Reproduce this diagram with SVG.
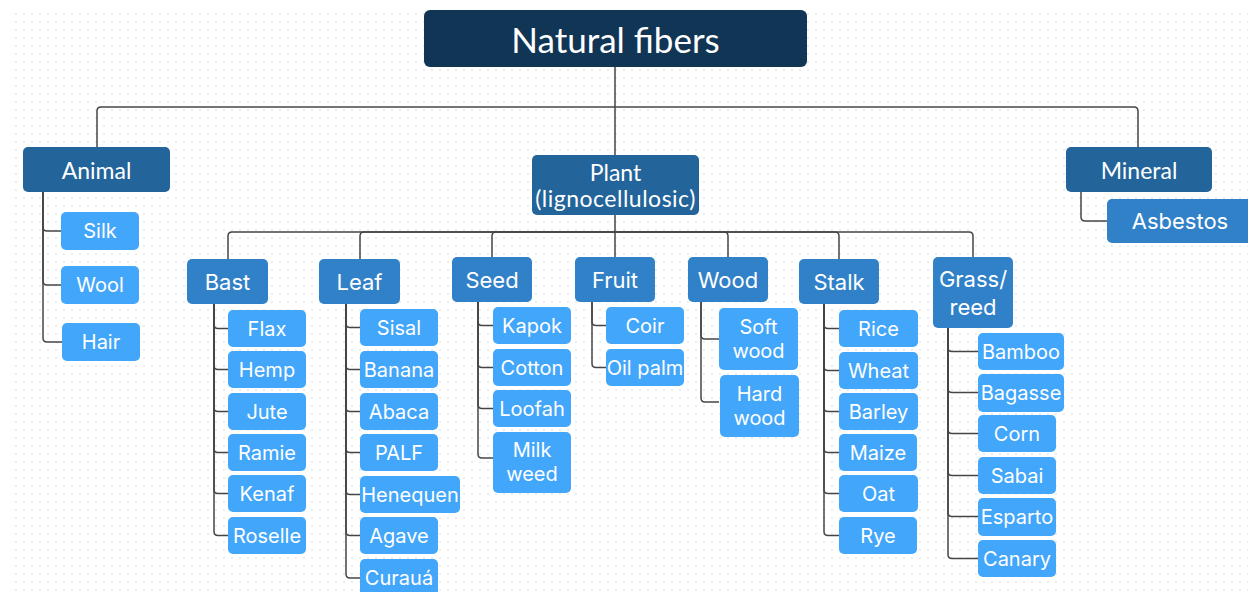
<svg xmlns="http://www.w3.org/2000/svg" width="1248" height="592" viewBox="0 0 1248 592">
<defs>
<pattern id="dots" x="15" y="13" width="8" height="8" patternUnits="userSpaceOnUse">
<circle cx="1" cy="1" r="0.9" fill="#e2e4e8"/>
</pattern>
<style>
.c{fill:none;stroke:#454545;stroke-width:1.5}
.n0{fill:#113555}
.n1{fill:#23649a}
.n2{fill:#3181c9}
.n3{fill:#42a6fb}
text{fill:#fff;text-anchor:middle;dominant-baseline:central}
.t0{font-family:Lato,"Noto Sans",sans-serif;font-size:35px}
.t1{font-family:Lato,"Noto Sans",sans-serif;font-size:23px}
.t2{font-family:Inter,"Noto Sans",sans-serif;font-size:22px}
.t3{font-family:Inter,"Noto Sans",sans-serif;font-size:20px}
</style>
</defs>
<rect width="1248" height="592" fill="#fff"/>
<rect x="14" y="12" width="1234" height="580" fill="url(#dots)"/>

<g id="connectors">
<path class="c" d="M615,67 V155"/>
<path class="c" d="M615,107 H101 Q97,107 97,111 V147"/>
<path class="c" d="M615,107 H1134 Q1138,107 1138,111 V147"/>
<path class="c" d="M1081,192 V217 Q1081,221 1085,221 H1107"/>
<path class="c" d="M43,192 V227 Q43,231 47,231 H61"/>
<path class="c" d="M43,192 V281 Q43,285 47,285 H61"/>
<path class="c" d="M43,192 V338 Q43,342 47,342 H62"/>
<path class="c" d="M615,215 V257"/>
<path class="c" d="M615,232 H232 Q228,232 228,236 V259"/>
<path class="c" d="M615,232 H364 Q360,232 360,236 V259"/>
<path class="c" d="M615,232 H496 Q492,232 492,236 V257"/>
<path class="c" d="M615,232 H724 Q728,232 728,236 V257"/>
<path class="c" d="M615,232 H835 Q839,232 839,236 V259"/>
<path class="c" d="M615,232 H969 Q973,232 973,236 V257"/>
<path class="c" d="M214,304 V324.5 Q214,328.5 218,328.5 H228"/>
<path class="c" d="M214,304 V365.5 Q214,369.5 218,369.5 H228"/>
<path class="c" d="M214,304 V407.5 Q214,411.5 218,411.5 H228"/>
<path class="c" d="M214,304 V448.5 Q214,452.5 218,452.5 H228"/>
<path class="c" d="M214,304 V489.5 Q214,493.5 218,493.5 H228"/>
<path class="c" d="M214,304 V531.5 Q214,535.5 218,535.5 H228"/>
<path class="c" d="M346,304 V323.5 Q346,327.5 350,327.5 H360"/>
<path class="c" d="M346,304 V365.5 Q346,369.5 350,369.5 H360"/>
<path class="c" d="M346,304 V407.5 Q346,411.5 350,411.5 H360"/>
<path class="c" d="M346,304 V448.5 Q346,452.5 350,452.5 H360"/>
<path class="c" d="M346,304 V490.5 Q346,494.5 350,494.5 H360"/>
<path class="c" d="M346,304 V531.5 Q346,535.5 350,535.5 H360"/>
<path class="c" d="M346,304 V574 Q346,578 350,578 H360"/>
<path class="c" d="M478,302 V321.5 Q478,325.5 482,325.5 H493"/>
<path class="c" d="M478,302 V363.5 Q478,367.5 482,367.5 H493"/>
<path class="c" d="M478,302 V404.5 Q478,408.5 482,408.5 H493"/>
<path class="c" d="M478,302 V454 Q478,458 482,458 H493"/>
<path class="c" d="M592,302 V321.5 Q592,325.5 596,325.5 H606"/>
<path class="c" d="M592,302 V363.5 Q592,367.5 596,367.5 H606"/>
<path class="c" d="M701,302 V335 Q701,339 705,339 H719"/>
<path class="c" d="M701,302 V398 Q701,402 705,402 H719"/>
<path class="c" d="M824,304 V324.5 Q824,328.5 828,328.5 H839"/>
<path class="c" d="M824,304 V366.5 Q824,370.5 828,370.5 H839"/>
<path class="c" d="M824,304 V407.5 Q824,411.5 828,411.5 H839"/>
<path class="c" d="M824,304 V448.5 Q824,452.5 828,452.5 H839"/>
<path class="c" d="M824,304 V489.5 Q824,493.5 828,493.5 H839"/>
<path class="c" d="M824,304 V531.5 Q824,535.5 828,535.5 H839"/>
<path class="c" d="M948,328 V347.5 Q948,351.5 952,351.5 H978"/>
<path class="c" d="M948,328 V388.5 Q948,392.5 952,392.5 H978"/>
<path class="c" d="M948,328 V429.5 Q948,433.5 952,433.5 H978"/>
<path class="c" d="M948,328 V471.5 Q948,475.5 952,475.5 H978"/>
<path class="c" d="M948,328 V512.5 Q948,516.5 952,516.5 H978"/>
<path class="c" d="M948,328 V554.5 Q948,558.5 952,558.5 H978"/>
</g>

<g id="natural-fibers"><rect class="n0" x="424" y="10" width="383" height="57" rx="6"/><text class="t0" x="615.5" y="39">Natural fibers</text></g>

<g id="animal"><rect class="n1" x="23" y="147" width="147" height="45" rx="5"/><text class="t1" x="96.5" y="169.5">Animal</text></g>
<g id="plant"><rect class="n1" x="532" y="155" width="167" height="60" rx="5"/><text class="t1" x="615.5" y="172">Plant</text><text class="t1" x="615.5" y="198" letter-spacing="0.5">(lignocellulosic)</text></g>
<g id="mineral"><rect class="n1" x="1066" y="147" width="146" height="45" rx="5"/><text class="t1" x="1139" y="169.5">Mineral</text></g>
<g id="asbestos"><rect class="n2" x="1107" y="199" width="146" height="44" rx="5"/><text class="t2" x="1180" y="221">Asbestos</text></g>

<g id="silk"><rect class="n3" x="61" y="212" width="78" height="38" rx="5"/><text class="t3" x="100" y="231">Silk</text></g>
<g id="wool"><rect class="n3" x="61" y="266" width="78" height="38" rx="5"/><text class="t3" x="100" y="285">Wool</text></g>
<g id="hair"><rect class="n3" x="62" y="323" width="78" height="38" rx="5"/><text class="t3" x="101" y="342">Hair</text></g>

<g id="bast"><rect class="n2" x="187" y="259" width="81" height="45" rx="5"/><text class="t2" x="227.5" y="281.5">Bast</text></g>
<g id="leaf"><rect class="n2" x="319" y="259" width="81" height="45" rx="5"/><text class="t2" x="359.5" y="281.5">Leaf</text></g>
<g id="seed"><rect class="n2" x="452" y="257" width="80" height="45" rx="5"/><text class="t2" x="492" y="279.5">Seed</text></g>
<g id="fruit"><rect class="n2" x="575" y="257" width="80" height="45" rx="5"/><text class="t2" x="615" y="279.5">Fruit</text></g>
<g id="wood"><rect class="n2" x="688" y="257" width="80" height="45" rx="5"/><text class="t2" x="728" y="279.5">Wood</text></g>
<g id="stalk"><rect class="n2" x="799" y="259" width="80" height="45" rx="5"/><text class="t2" x="839" y="281.5">Stalk</text></g>
<g id="grass-reed"><rect class="n2" x="933" y="257" width="80" height="71" rx="5"/><text class="t2" x="973" y="279">Grass/</text><text class="t2" x="973" y="307">reed</text></g>

<g id="flax"><rect class="n3" x="228" y="310" width="78" height="37" rx="5"/><text class="t3" x="267" y="328.5">Flax</text></g>
<g id="hemp"><rect class="n3" x="228" y="351" width="78" height="37" rx="5"/><text class="t3" x="267" y="369.5">Hemp</text></g>
<g id="jute"><rect class="n3" x="228" y="393" width="78" height="37" rx="5"/><text class="t3" x="267" y="411.5">Jute</text></g>
<g id="ramie"><rect class="n3" x="228" y="434" width="78" height="37" rx="5"/><text class="t3" x="267" y="452.5">Ramie</text></g>
<g id="kenaf"><rect class="n3" x="228" y="475" width="78" height="37" rx="5"/><text class="t3" x="267" y="493.5">Kenaf</text></g>
<g id="roselle"><rect class="n3" x="228" y="517" width="78" height="37" rx="5"/><text class="t3" x="267" y="535.5">Roselle</text></g>

<g id="sisal"><rect class="n3" x="360" y="309" width="78" height="37" rx="5"/><text class="t3" x="399" y="327.5">Sisal</text></g>
<g id="banana"><rect class="n3" x="360" y="351" width="78" height="37" rx="5"/><text class="t3" x="399" y="369.5">Banana</text></g>
<g id="abaca"><rect class="n3" x="360" y="393" width="78" height="37" rx="5"/><text class="t3" x="399" y="411.5">Abaca</text></g>
<g id="palf"><rect class="n3" x="360" y="434" width="78" height="37" rx="5"/><text class="t3" x="399" y="452.5">PALF</text></g>
<g id="henequen"><rect class="n3" x="360" y="476" width="100" height="37" rx="5"/><text class="t3" x="410" y="494.5">Henequen</text></g>
<g id="agave"><rect class="n3" x="360" y="517" width="78" height="37" rx="5"/><text class="t3" x="399" y="535.5">Agave</text></g>
<g id="curaua"><rect class="n3" x="360" y="559" width="78" height="38" rx="5"/><text class="t3" x="399" y="577.5">Curauá</text></g>

<g id="kapok"><rect class="n3" x="493" y="307" width="78" height="37" rx="5"/><text class="t3" x="532" y="325.5">Kapok</text></g>
<g id="cotton"><rect class="n3" x="493" y="349" width="78" height="37" rx="5"/><text class="t3" x="532" y="367.5">Cotton</text></g>
<g id="loofah"><rect class="n3" x="493" y="390" width="78" height="37" rx="5"/><text class="t3" x="532" y="408.5">Loofah</text></g>
<g id="milk-weed"><rect class="n3" x="493" y="432" width="78" height="61" rx="5"/><text class="t3" x="532" y="450">Milk</text><text class="t3" x="532" y="474">weed</text></g>

<g id="coir"><rect class="n3" x="606" y="307" width="78" height="37" rx="5"/><text class="t3" x="645" y="325.5">Coir</text></g>
<g id="oil-palm"><rect class="n3" x="606" y="349" width="78" height="37" rx="5"/><text class="t3" x="645" y="367.5">Oil palm</text></g>

<g id="soft-wood"><rect class="n3" x="719" y="308" width="79" height="62" rx="5"/><text class="t3" x="758.5" y="327">Soft</text><text class="t3" x="758.5" y="351">wood</text></g>
<g id="hard-wood"><rect class="n3" x="720" y="375" width="79" height="62" rx="5"/><text class="t3" x="759.5" y="394">Hard</text><text class="t3" x="759.5" y="418">wood</text></g>

<g id="rice"><rect class="n3" x="839" y="310" width="79" height="37" rx="5"/><text class="t3" x="878.5" y="328.5">Rice</text></g>
<g id="wheat"><rect class="n3" x="839" y="352" width="79" height="37" rx="5"/><text class="t3" x="878.5" y="370.5">Wheat</text></g>
<g id="barley"><rect class="n3" x="839" y="393" width="79" height="37" rx="5"/><text class="t3" x="878.5" y="411.5">Barley</text></g>
<g id="maize"><rect class="n3" x="839" y="434" width="78" height="37" rx="5"/><text class="t3" x="878" y="452.5">Maize</text></g>
<g id="oat"><rect class="n3" x="839" y="475" width="79" height="37" rx="5"/><text class="t3" x="878.5" y="493.5">Oat</text></g>
<g id="rye"><rect class="n3" x="839" y="517" width="78" height="37" rx="5"/><text class="t3" x="878" y="535.5">Rye</text></g>

<g id="bamboo"><rect class="n3" x="978" y="333" width="86" height="37" rx="5"/><text class="t3" x="1021" y="351.5">Bamboo</text></g>
<g id="bagasse"><rect class="n3" x="978" y="374" width="86" height="38" rx="5"/><text class="t3" x="1021" y="393">Bagasse</text></g>
<g id="corn"><rect class="n3" x="978" y="415" width="78" height="37" rx="5"/><text class="t3" x="1017" y="433.5">Corn</text></g>
<g id="sabai"><rect class="n3" x="978" y="457" width="78" height="37" rx="5"/><text class="t3" x="1017" y="475.5">Sabai</text></g>
<g id="esparto"><rect class="n3" x="978" y="498" width="78" height="38" rx="5"/><text class="t3" x="1017" y="517">Esparto</text></g>
<g id="canary"><rect class="n3" x="978" y="540" width="78" height="37" rx="5"/><text class="t3" x="1017" y="558.5">Canary</text></g>
</svg>
